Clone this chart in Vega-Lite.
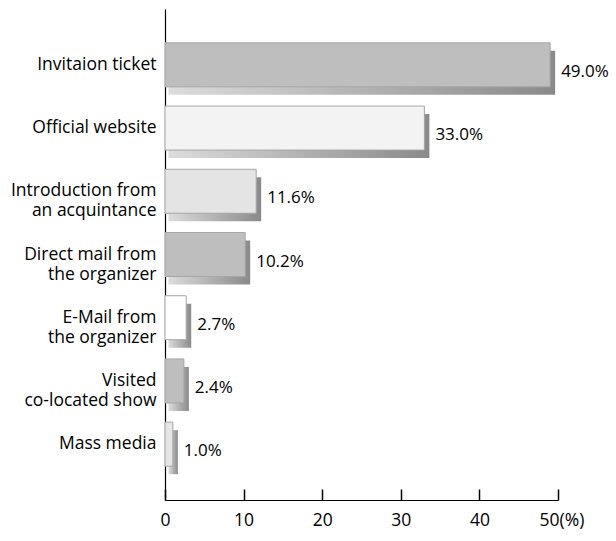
{
  "$schema": "https://vega.github.io/schema/vega-lite/v6.json",
  "width": 393,
  "height": 491,
  "autosize": "none",
  "padding": {"left": 165, "top": 9, "right": 58, "bottom": 41},
  "background": "white",
  "config": {"view": {"stroke": null}, "font": "Open Sans"},
  "data": {"values": [
    {"source": "Invitaion ticket", "value": 49.0},
    {"source": "Official website", "value": 33.0},
    {"source": "Introduction from\nan acquintance", "value": 11.6},
    {"source": "Direct mail from\nthe organizer", "value": 10.2},
    {"source": "E-Mail from\nthe organizer", "value": 2.7},
    {"source": "Visited\nco-located show", "value": 2.4},
    {"source": "Mass media", "value": 1.0}
  ]},
  "encoding": {
    "y": {
      "field": "source", "type": "nominal", "sort": null,
      "scale": {"paddingInner": 0.304, "paddingOuter": 0.535},
      "axis": {
        "title": null, "ticks": false, "domainColor": "black", "domainWidth": 1.2,
        "labelPadding": 9, "labelFontSize": 17.5, "labelColor": "black", "labelLimit": 0,
        "labelExpr": "split(datum.label, '\\n')", "labelLineHeight": 20
      }
    },
    "x": {
      "field": "value", "type": "quantitative",
      "scale": {"domain": [0, 50]},
      "axis": {
        "title": null, "values": [0, 10, 20, 30, 40, 50], "grid": false,
        "tickSize": -11, "tickColor": "black", "tickWidth": 1.5,
        "domainColor": "black", "domainWidth": 1.2,
        "labelPadding": 22, "labelFontSize": 17.5, "labelColor": "black",
        "labelFlush": false, "labelOverlap": false,
        "labelExpr": "datum.value == 50 ? '50(%)' : datum.label",
        "labelAlign": {"condition": {"test": "datum.value == 50", "value": "left"}, "value": "center"},
        "labelOffset": {"condition": {"test": "datum.value == 50", "value": -19}, "value": 0}
      }
    }
  },
  "layer": [
    {
      "mark": {
        "type": "bar", "xOffset": 5, "x2Offset": 3.5, "yOffset": 8,
        "color": {"gradient": "linear", "x1": 0, "x2": 1, "y1": 0, "y2": 0,
          "stops": [{"offset": 0, "color": "#dcdcdc"}, {"offset": 1, "color": "#8a8a8a"}]}
      },
      "encoding": {"x2": {"datum": 0}}
    },
    {
      "mark": {"type": "bar", "stroke": "#a6a6a6", "strokeWidth": 1},
      "encoding": {
        "x2": {"datum": 0},
        "color": {
          "field": "source", "type": "nominal", "legend": null,
          "scale": {
            "domain": ["Invitaion ticket", "Official website", "Introduction from\nan acquintance", "Direct mail from\nthe organizer", "E-Mail from\nthe organizer", "Visited\nco-located show", "Mass media"],
            "range": ["#bebebe", "#f3f3f3", "#e4e4e4", "#bebebe", "#ffffff", "#bebebe", "#e6e6e6"]
          }
        }
      }
    },
    {
      "transform": [{"calculate": "format(datum.value, '.1f') + '%'", "as": "label"}],
      "mark": {"type": "text", "align": "left", "dx": 11, "dy": 7, "fontSize": 17, "color": "black"},
      "encoding": {"text": {"field": "label"}}
    }
  ]
}
